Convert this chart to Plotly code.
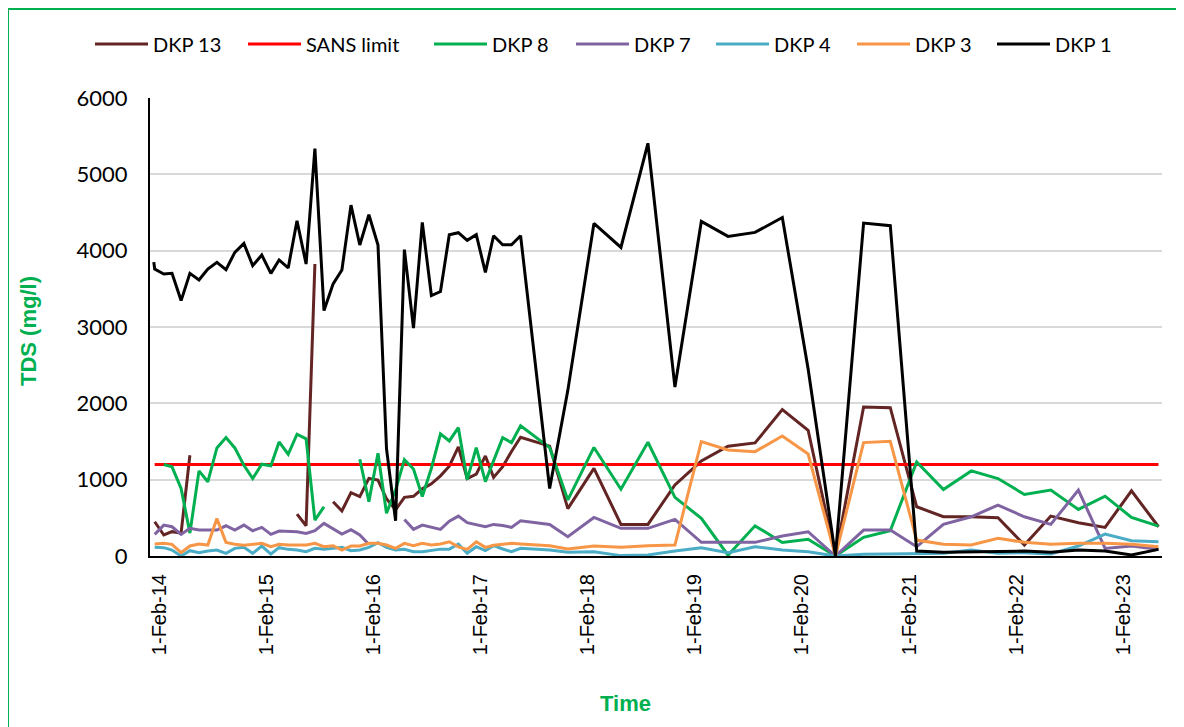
import plotly.graph_objects as go

# ---------------- data ----------------
monthly_dates = [
    "2014-01-17", "2014-02-17", "2014-03-17", "2014-04-17", "2014-05-17", "2014-06-17",
    "2014-07-17", "2014-08-17", "2014-09-17", "2014-10-17", "2014-11-17", "2014-12-17",
    "2015-01-17", "2015-02-17", "2015-03-17", "2015-04-17", "2015-05-17", "2015-06-17",
    "2015-07-17", "2015-08-17", "2015-09-17", "2015-10-17", "2015-11-17", "2015-12-17",
    "2016-01-17", "2016-02-17", "2016-03-17", "2016-04-17", "2016-05-17", "2016-06-17",
    "2016-07-17", "2016-08-17", "2016-09-17", "2016-10-17", "2016-11-17", "2016-12-17",
    "2017-01-17", "2017-02-17", "2017-03-17", "2017-04-17", "2017-05-17", "2017-06-17",
]
quarterly_dates = [
    "2017-09-24", "2017-11-25", "2018-02-22", "2018-05-25", "2018-08-25", "2018-11-25",
    "2019-02-23", "2019-05-25", "2019-08-25", "2019-11-26", "2020-02-22", "2020-05-25",
    "2020-08-29", "2020-11-28", "2021-02-26", "2021-05-28", "2021-08-31", "2021-11-30",
    "2022-02-28", "2022-05-29", "2022-08-31", "2022-11-30", "2023-02-28", "2023-05-31",
]
dates = monthly_dates + quarterly_dates
dkp1_dates = ["2014-01-14"] + dates

dkp13 = [449, 275, 319, 301, 1320, None, None, None, None, None, None, None, None, None,
         None, None, 549, 396, 3825, None, 710, 590, 830, 778, 1016, 995, 750, 605, 768,
         782, 880, 945, 1050, 1176, 1429, 1015, 1072, 1311, 1030, 1170, 1370, 1555,
         1440, 620, 1148, 414, 414, 930, 1246, 1438, 1481, 1917, 1647, 0, 1952, 1943,
         645, 514, 514, 501, 144, 523, 436, 375, 854, 383]
sans_dates = ["2014-01-17", "2023-05-31"]
sans_limit = [1200, 1200]
dkp8 = [None, 1198, 1168, 885, 300, 1115, 972, 1416, 1551, 1416, 1189, 1015, 1203, 1181,
        1494, 1333, 1595, 1535, 470, 645, None, None, None, 1267, 712, 1345, 559, 865,
        1262, 1140, 780, 1150, 1600, 1507, 1681, 1000, 1419, 975, 1250, 1550, 1485, 1707,
        1420, 735, 1422, 875, 1490, 768, 494, 10, 395, 178, 220, 0, 244, 331, 1233, 871,
        1115, 1015, 806, 863, 610, 784, 505, 392]
dkp7 = [283, 405, 383, 283, 362, 340, 340, 340, 396, 340, 405, 331, 375, 283, 327, 327,
        318, 296, 331, 427, 362, 288, 345, 275, 150, None, None, None, 479, 349, 405, 375,
        349, 457, 523, 436, 405, 383, 414, 400, 375, 462,
        414, 253, 505, 362, 362, 479, 179, 179, 179, 261, 318, 0, 340, 340, 122, 414, 514,
        667, 514, 414, 863, 100, 131, 87]
dkp4 = [113, 109, 78, 0, 70, 44, 65, 78, 35, 100, 113, 35, 131, 26, 109, 87, 78, 57, 100,
        87, 100, 113, 70, 78, 113, 174, 113, 78, 87, 57, 57, 78, 90, 90, 157, 35, 122, 70,
        135, 92, 57, 100,
        79, 48, 57, 5, 13, 65, 109, 44, 122, 79, 57, 0, 22, 26, 35, 35, 78, 35, 44, 26,
        131, 288, 200, 187]
dkp3 = [157, 166, 153, 44, 131, 157, 144, 490, 179, 153, 140, 157, 166, 122, 153, 144,
        140, 144, 166, 122, 135, 78, 131, 131, 166, 166, 144, 100, 166, 135, 166, 144, 157,
        187, 120, 87, 187, 113, 140, 157, 166, 157,
        135, 92, 131, 113, 135, 144, 1498, 1389, 1367, 1572, 1336, 0, 1486, 1503, 209,
        153, 144, 231, 179, 153, 166, 166, 153, 122]
dkp1 = [3850, 3760, 3695, 3703, 3346, 3703, 3616, 3760, 3847, 3751, 3978, 4096, 3804, 3943,
        3703, 3878, 3773, 4392, 3825, 5337, 3215, 3564, 3747, 4597, 4074, 4470, 4074, 1407,
        462, 4013, 2985, 4370, 3412, 3464, 4209, 4235, 4135, 4209, 3716, 4196, 4078, 4078,
        4196,
        884, 2170, 4357, 4043, 5407, 2213, 4383, 4187, 4239, 4435, 2450, 0, 4361, 4327,
        65, 48, 57, 65, 65, 48, 78, 65, 13, 87]

series_names = ["DKP 13", "SANS limit", "DKP 8", "DKP 7", "DKP 4", "DKP 3", "DKP 1"]
series_x = [dates, sans_dates, dates, dates, dates, dates, dkp1_dates]
series_y = [dkp13, sans_limit, dkp8, dkp7, dkp4, dkp3, dkp1]

tick_dates = ["2014-02-01", "2015-02-01", "2016-02-01", "2017-02-01", "2018-02-01",
              "2019-02-01", "2020-02-01", "2021-02-01", "2022-02-01", "2023-02-01"]
tick_labels = ["1-Feb-14", "1-Feb-15", "1-Feb-16", "1-Feb-17", "1-Feb-18",
               "1-Feb-19", "1-Feb-20", "1-Feb-21", "1-Feb-22", "1-Feb-23"]

# ---------------- styles / layout ----------------
colors = ["#632523", "#FF0000", "#00B050", "#8064A2", "#4BACC6", "#F79646", "#000000"]
OFF = 8                       # page offset of the figure inside the browser window
W, H = 1184 - OFF, 727 - OFF
L, R, T, B = 142, 22, 90, 171
PW, PH = W - L - R, H - T - B


def px(x):
    """screen x pixel -> paper fraction"""
    return (x - OFF - L) / PW


def py(y):
    """screen y pixel -> paper fraction"""
    return (OFF + H - B - y) / PH


legend_line_start = [95, 248, 434, 576, 716, 857, 997]
legend_y = 44
legend_line_len = 53
legend_font = dict(family="Lato, Calibri, sans-serif", size=20, color="#000000")
green = "#00B050"

fig = go.Figure()
for name, xs, ys, c in zip(series_names, series_x, series_y, colors):
    fig.add_trace(go.Scatter(x=xs, y=ys, mode="lines", name=name,
                             line=dict(color=c, width=3), connectgaps=False,
                             showlegend=False))

shapes = []
annotations = []
for name, c, x0 in zip(series_names, colors, legend_line_start):
    shapes.append(dict(type="line", xref="paper", yref="paper",
                       x0=px(x0), x1=px(x0 + legend_line_len),
                       y0=py(legend_y), y1=py(legend_y),
                       line=dict(color=c, width=3)))
    annotations.append(dict(text=name, xref="paper", yref="paper",
                            x=px(x0 + legend_line_len + 3), y=py(legend_y),
                            xanchor="left", yanchor="middle", showarrow=False,
                            font=legend_font))

# outer green border
shapes.append(dict(type="rect", xref="paper", yref="paper",
                   x0=px(8), x1=px(1220), y0=py(760), y1=py(9),
                   line=dict(color=green, width=2), fillcolor="rgba(0,0,0,0)",
                   layer="below"))

annotations.append(dict(text="<b>TDS (mg/l)</b>", xref="paper", yref="paper",
                        x=px(28), y=py(331), textangle=-90, showarrow=False,
                        xanchor="center", yanchor="middle",
                        font=dict(family="Liberation Sans, Arial, sans-serif",
                                  size=22, color=green)))
annotations.append(dict(text="<b>Time</b>", xref="paper", yref="paper",
                        x=px(625), y=py(703), showarrow=False,
                        xanchor="center", yanchor="middle",
                        font=dict(family="Liberation Sans, Arial, sans-serif",
                                  size=22, color=green)))

fig.update_layout(
    width=W, height=H,
    margin=dict(l=L, r=R, t=T, b=B, pad=0),
    paper_bgcolor="white", plot_bgcolor="white",
    showlegend=False,
    shapes=shapes, annotations=annotations,
    xaxis=dict(type="date", range=["2014-01-01", "2023-06-12"],
               tickmode="array", tickvals=tick_dates, ticktext=tick_labels,
               tickangle=-90, ticks="", ticklabelstandoff=8,
               tickfont=dict(family="Liberation Sans, Arial, sans-serif", size=20,
                             color="#000000"),
               showgrid=False, showline=True, linecolor="#000000", linewidth=2,
               zeroline=False),
    yaxis=dict(range=[0, 6000], tickmode="linear", tick0=0, dtick=1000,
               ticks="outside", ticklen=16, tickcolor="rgba(0,0,0,0)",
               tickfont=dict(family="Lato, Calibri, sans-serif", size=22, color="#000000"),
               showgrid=True, gridcolor="#D9D9D9", gridwidth=1.5,
               showline=True, linecolor="#000000", linewidth=2, zeroline=False),
)

fig.write_html("out.html")
